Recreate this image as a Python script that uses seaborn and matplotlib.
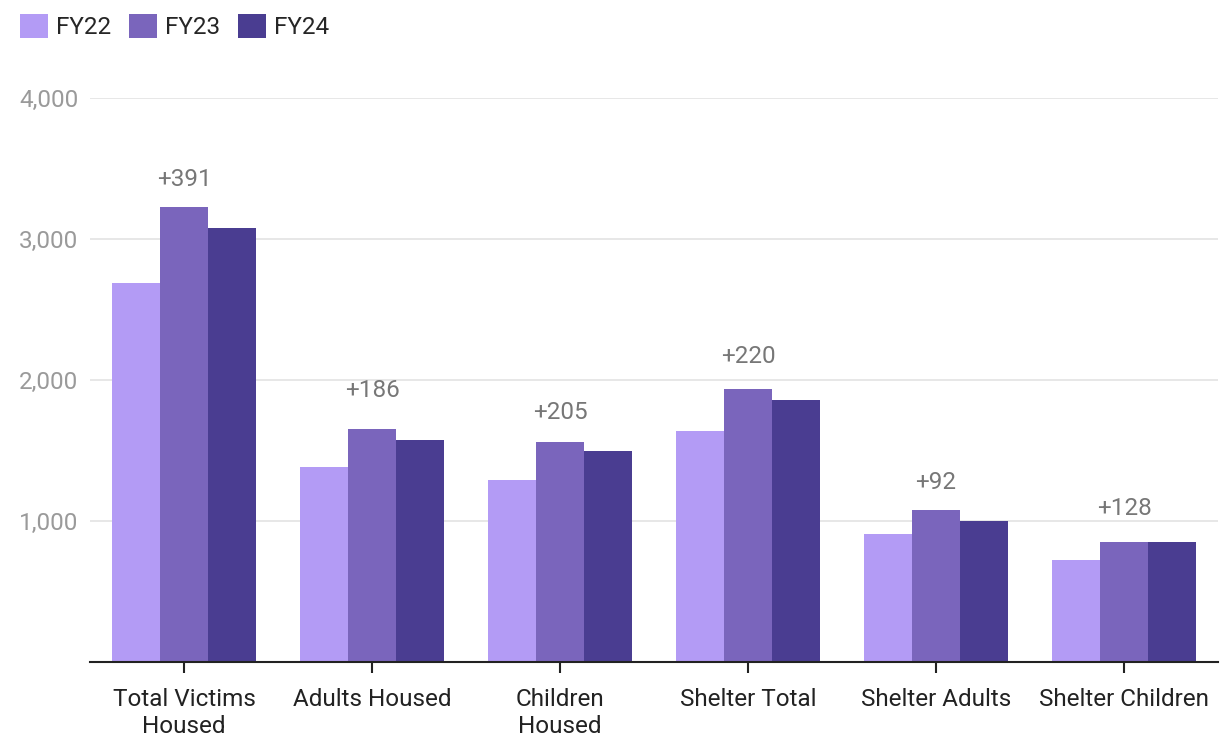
import matplotlib
matplotlib.use('agg')
import matplotlib.pyplot as plt
import pandas as pd
import seaborn as sns
from matplotlib.patches import Patch

categorias = ['Total Victims\nHoused', 'Adults Housed', 'Children\nHoused',
              'Shelter Total', 'Shelter Adults', 'Shelter Children']
fy22 = [2688, 1383, 1291, 1638, 908, 723]
fy23 = [3227, 1652, 1560, 1936, 1078, 851]
fy24 = [3078, 1574, 1496, 1858, 1000, 851]
cambios = ['+391', '+186', '+205', '+220', '+92', '+128']
# altura (en unidades de datos) del centro de cada etiqueta de cambio
altura_etiqueta = [3420, 1925, 1768, 2165, 1272, 1088]
anios = ['FY22', 'FY23', 'FY24']
colores = ['#b39bf5', '#7a65bc', '#4a3d91']

df = pd.DataFrame({
    'categoria': categorias * 3,
    'anio': ['FY22'] * 6 + ['FY23'] * 6 + ['FY24'] * 6,
    'valor': fy22 + fy23 + fy24,
})

sns.set_theme(style='white')
plt.rcParams['font.family'] = ['Roboto', 'DejaVu Sans']

fig = plt.figure(figsize=(12.32, 7.56), dpi=100)
ax = fig.add_axes([0.073, 0.1243, 0.9156, 0.7461])

sns.barplot(data=df, x='categoria', y='valor', hue='anio', palette=colores,
            width=0.766, saturation=1, linewidth=0, ax=ax, legend=False)

ax.set_ylim(0, 4000)
ax.set_yticks([1000, 2000, 3000, 4000])
ax.set_yticklabels(['1,000', '2,000', '3,000', '4,000'])
ax.yaxis.grid(True, color='#e3e3e3', linewidth=1.2)
ax.set_axisbelow(True)
ax.set_xlabel('')
ax.set_ylabel('')
for lado in ['top', 'right', 'left']:
    ax.spines[lado].set_visible(False)
ax.spines['bottom'].set_color('#222222')
ax.spines['bottom'].set_linewidth(1.5)
ax.tick_params(axis='y', length=0, labelsize=17.5, labelcolor='#9a9a9a', pad=8.5)
ax.tick_params(axis='x', length=8, width=1.5, color='#222222', labelsize=17.5,
               labelcolor='#222222', pad=11, bottom=True)

# etiquetas de cambio sobre cada grupo
for i, txt in enumerate(cambios):
    ax.text(i, altura_etiqueta[i], txt, ha='center', va='center',
            fontsize=17.5, color='#777777')

handles = [Patch(facecolor=c, edgecolor='none') for c in colores]
fig.legend(handles, anios, loc='upper left', bbox_to_anchor=(0.008, 0.995),
           ncol=3, frameon=False, fontsize=17.5, handlelength=1.15, handleheight=1.15,
           handletextpad=0.33, columnspacing=0.75, borderaxespad=0)

fig.savefig('out.png', dpi=100)
plt.close(fig)
